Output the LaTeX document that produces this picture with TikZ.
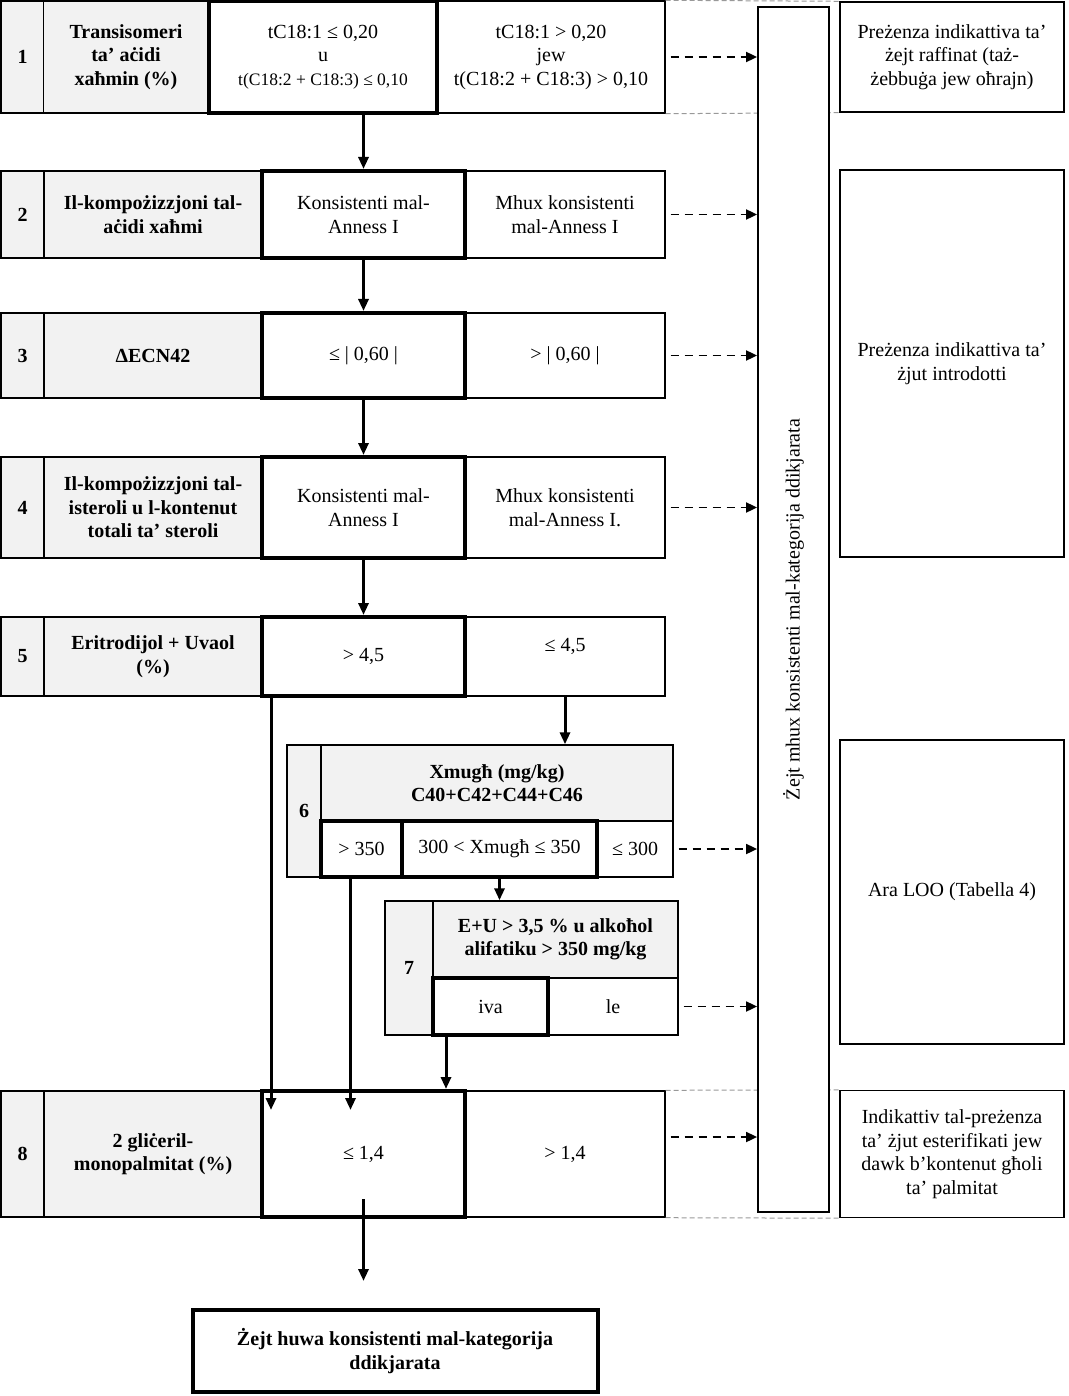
\documentclass[tikz,border=0pt]{standalone}
\usepackage{fontspec}
\setmainfont{Liberation Serif}
\usetikzlibrary{arrows.meta}

\begin{document}
\begin{tikzpicture}[x=1pt, y=-1pt,
  every node/.style={font=\fontsize{20}{23.5}\selectfont, align=center, inner sep=0pt},
  cell/.style={draw, line width=1.4pt},
  lab/.style={cell, fill=black!5, font=\fontsize{20}{23.5}\selectfont\bfseries},
  pass/.style={draw, fill=white, line width=4pt},
  flow/.style={-{Triangle[length=12pt,width=10pt]}, line width=3pt},
  fail/.style={-{Triangle[length=11pt,width=10pt]}, line width=1.8pt, dash pattern=on 8pt off 6pt, shorten <=5pt},
  guide/.style={black!40, line width=1pt, dash pattern=on 5pt off 3pt}]
  \useasboundingbox (0,0) rectangle (1068,1396);

  % step 1
  \node[lab, minimum width=43pt, minimum height=112pt] (n1) at (22.5,57) {1};
  \node[lab, minimum width=165pt, minimum height=112pt] (l1) at (126,57) {Transisomeri\\ ta' aċidi\\ xaħmin (\%)};
  \node[cell, minimum width=228pt, minimum height=112pt] (no1) at (551,57) {tC18:1 > 0,20\\ jew\\ t(C18:2 + C18:3) > 0,10};
  \node[pass, minimum width=228pt, minimum height=112pt] (ok1) at (323,57) {tC18:1 ≤ 0,20\\ u\\ {\fontsize{17.5}{20}\selectfont t(C18:2 + C18:3) ≤ 0,10}};

  % step 2
  \node[lab, minimum width=43pt, minimum height=87pt] (n2) at (22.5,214.5) {2};
  \node[lab, minimum width=218pt, minimum height=87pt] (l2) at (153,214.5) {Il-kompożizzjoni tal-\\ aċidi xaħmi};
  \node[cell, minimum width=200pt, minimum height=87pt] (no2) at (565,214.5) {Mhux konsistenti\\ mal-Anness I};
  \node[pass, minimum width=203pt, minimum height=87pt] (ok2) at (363.5,214.5) {Konsistenti mal-\\ Anness I};

  % step 3
  \node[lab, minimum width=43pt, minimum height=85pt] (n3) at (22.5,355.5) {3};
  \node[lab, minimum width=218pt, minimum height=85pt] (l3) at (153,355.5) {ΔECN42};
  \node[cell, minimum width=200pt, minimum height=85pt] (no3) at (565,355.5) {> | 0,60 |};
  \node[pass, minimum width=203pt, minimum height=85pt] (ok3) at (363.5,355.5) {≤ | 0,60 |};

  % step 4
  \node[lab, minimum width=43pt, minimum height=101pt] (n4) at (22.5,507.5) {4};
  \node[lab, minimum width=218pt, minimum height=101pt] (l4) at (153,507.5) {Il-kompożizzjoni tal-\\ isteroli u l-kontenut\\ totali ta' steroli};
  \node[cell, minimum width=200pt, minimum height=101pt] (no4) at (565,507.5) {Mhux konsistenti\\ mal-Anness I.};
  \node[pass, minimum width=203pt, minimum height=101pt] (ok4) at (363.5,507.5) {Konsistenti mal-\\ Anness I};

  % step 5
  \node[lab, minimum width=43pt, minimum height=79pt] (n5) at (22.5,656.5) {5};
  \node[lab, minimum width=218pt, minimum height=79pt] (l5) at (153,656.5) {Eritrodijol + Uvaol\\ (\%)};
  \node[cell, minimum width=200pt, minimum height=79pt] (no5) at (565,656.5) {≤ 4,5\\ \mbox{}};
  \node[pass, minimum width=203pt, minimum height=79pt] (ok5) at (363.5,656.5) {> 4,5};

  % step 6
  \node[lab, minimum width=34pt, minimum height=132pt] (n6) at (304,811) {6};
  \node[lab, minimum width=352pt, minimum height=76pt] (h6) at (497,783) {Xmugħ (mg/kg)\\ C40+C42+C44+C46};
  \node[cell, minimum width=76pt, minimum height=56pt] (le300) at (635,849) {≤ 300};
  \node[pass, minimum width=81pt, minimum height=56pt] (gt350) at (361.5,849) {> 350};
  \node[pass, minimum width=195pt, minimum height=56pt] (mid6) at (499.5,849) {300 < Xmugħ ≤ 350};

  % step 7
  \node[lab, minimum width=48pt, minimum height=134pt] (n7) at (409,968) {7};
  \node[lab, minimum width=245pt, minimum height=77pt] (h7) at (555.5,939.5) {E+U > 3,5 \% u alkoħol\\ alifatiku > 350 mg/kg};
  \node[cell, minimum width=130pt, minimum height=57pt] (le) at (613,1006.5) {le};
  \node[pass, minimum width=115pt, minimum height=57pt] (iva) at (490.5,1006.5) {iva};

  % step 8
  \node[lab, minimum width=43pt, minimum height=126pt] (n8) at (22.5,1154) {8};
  \node[lab, minimum width=218pt, minimum height=126pt] (l8) at (153,1154) {2 gliċeril-\\ monopalmitat (\%)};
  \node[cell, minimum width=200pt, minimum height=126pt] (no8) at (565,1154) {> 1,4};
  \node[pass, minimum width=203pt, minimum height=126pt] (ok8) at (363.5,1154) {≤ 1,4};

  % outcome
  \node[pass, minimum width=405pt, minimum height=82pt, font=\fontsize{20}{23.5}\selectfont\bfseries] (fin) at (395,1351) {Żejt huwa konsistenti mal-kategorija\\ ddikjarata};

  % notes on the right
  \node[cell, minimum width=224pt, minimum height=110pt] (note1) at (952,57) {Preżenza indikattiva ta'\\ żejt raffinat (taż-\\ żebbuġa jew oħrajn)};
  \node[cell, minimum width=224pt, minimum height=387pt] (note2) at (952,363.5) {Preżenza indikattiva ta'\\ żjut introdotti};
  \node[cell, minimum width=224pt, minimum height=304pt] (note3) at (952,892) {Ara LOO (Tabella 4)};
  \node[cell, minimum width=224pt, minimum height=127pt] (note4) at (952,1154) {Indikattiv tal-preżenza\\ ta' żjut esterifikati jew\\ dawk b'kontenut għoli\\ ta' palmitat};

  \draw[guide] (no1.north east) -- (note1.north west);
  \draw[guide] (no1.south east) -- (note1.south west);
  \draw[guide] (no8.north east) -- (note4.north west);
  \draw[guide] (no8.south east) -- (note4.south west);

  % not consistent bar
  \node[draw, fill=white, line width=1.8pt, minimum width=71pt, minimum height=1205pt] (bar) at (793.5,609.5) {};
  \node[rotate=90] (bartext) at (bar) {Żejt mhux konsistenti mal-kategorija ddikjarata};

  % main path
  \draw[flow] (ok1.south -| ok2.north) -- (ok2.north);
  \draw[flow] (ok2.south) -- (ok3.north);
  \draw[flow] (ok3.south) -- (ok4.north);
  \draw[flow] (ok4.south) -- (ok5.north);
  \draw[flow] (no5.south) -- (no5.south |- h6.north);
  \draw[flow] (mid6.south) -- (mid6.south |- h7.north);
  \coordinate (in8) at ([yshift=-21pt]ok8.north);
  \draw[flow] ([xshift=11pt]ok5.south west) -- ([xshift=11pt]ok5.south west |- in8);
  \draw[flow] ([xshift=-11pt]gt350.south) -- ([xshift=-11pt]gt350.south |- in8);
  \draw[flow] ([xshift=15pt]iva.south west) -- ([xshift=15pt]iva.south west |- ok8.north);
  \coordinate (out8) at ([yshift=27pt]fin.north);
  \draw[flow] ([yshift=20pt]ok8.south) -- (ok8.south |- out8);

  % to the bar
  \draw[fail] (no1.east) -- (no1.east -| bar.west);
  \draw[fail] (no2.east) -- (no2.east -| bar.west);
  \draw[fail] (no3.east) -- (no3.east -| bar.west);
  \draw[fail] (no4.east) -- (no4.east -| bar.west);
  \draw[fail] (le300.east) -- (le300.east -| bar.west);
  \draw[fail] (le.east) -- (le.east -| bar.west);
  \draw[fail] ([yshift=17pt]no8.east) -- ([yshift=17pt]no8.east -| bar.west);
\end{tikzpicture}
\end{document}
